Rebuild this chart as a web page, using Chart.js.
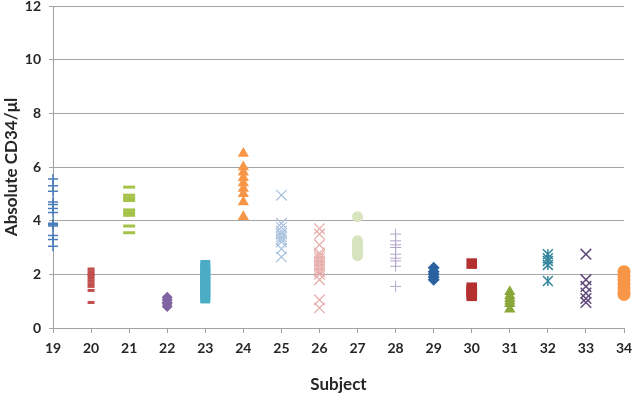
<!DOCTYPE html>
<html lang="en">
<head>
    <script src="https://cdn.jsdelivr.net/npm/chart.js@4/dist/chart.umd.min.js"></script>
    <style>
        html, body { margin: 0; padding: 0; background: #fff; }
        #canvas-container { position: relative; width: 633px; height: 395px; }
    </style>
</head>
<body>

<div id="canvas-container">
    <canvas id="dot-chart"></canvas>
</div>

<script>
    // subjects on the x axis
    const subjects = [19, 20, 21, 22, 23, 24, 25, 26, 27, 28, 29, 30, 31, 32, 33, 34];
    const yTicks = [0, 2, 4, 6, 8, 10, 12];

    // absolute CD34 counts per subject
    const s19 = [5.55, 5.3, 5.1, 4.7, 4.6, 4.45, 4.3, 3.9, 3.85, 3.8, 3.45, 3.3, 3.05];
    const s20 = [2.2, 2.1, 2.0, 1.95, 1.85, 1.75, 1.65, 1.55, 1.4, 0.95];
    const s21 = [5.25, 4.95, 4.85, 4.75, 4.4, 4.3, 4.2, 3.8, 3.55];
    const s22 = [1.15, 1.05, 0.95, 0.9, 0.8];
    const s23 = [2.35, 2.25, 2.15, 2.05, 1.95, 1.85, 1.75, 1.65, 1.55, 1.45, 1.35, 1.25, 1.15, 1.1];
    const s24 = [6.5, 6.0, 5.8, 5.6, 5.4, 5.2, 5.0, 4.7, 4.15];
    const s25 = [4.95, 3.9, 3.75, 3.6, 3.5, 3.4, 3.3, 3.2, 2.95, 2.65];
    const s26 = [3.7, 3.5, 3.1, 2.8, 2.7, 2.6, 2.5, 2.4, 2.3, 2.2, 2.1, 2.0, 1.8, 1.05, 0.75];
    const s27 = [4.15, 3.25, 3.15, 3.05, 2.95, 2.85, 2.75, 2.7];
    const s28 = [3.5, 3.25, 3.1, 3.0, 2.75, 2.6, 2.5, 2.3, 1.55];
    const s29 = [2.25, 2.1, 2.0, 1.9, 1.8];
    const s30 = [2.4, 1.5, 1.4, 1.3, 1.2];
    const s31 = [1.35, 1.2, 1.1, 1.0, 0.9, 0.7];
    const s32 = [2.75, 2.6, 2.5, 2.35, 1.75];
    const s33 = [2.75, 1.8, 1.55, 1.3, 1.1, 0.95];
    const s34 = [2.1, 1.95, 1.8, 1.65, 1.5, 1.35, 1.25];

    const series = [s19, s20, s21, s22, s23, s24, s25, s26, s27, s28, s29, s30, s31, s32, s33, s34];

    // marker look for each subject
    const markers = [
        { style: 'cross',    r: 5,   color: '#4a7ebb', bw: 1.5 },
        { style: 'line',     r: 3.5, color: '#c0504d', bw: 3 },
        { style: 'line',     r: 6,   color: '#a5c249', bw: 3 },
        { style: 'rectRot',  r: 5.5, color: '#8064a2', fill: true },
        { style: 'rect',     r: 7,   color: '#4bacc6', fill: true },
        { style: 'triangle', r: 6.5, color: '#f79646', fill: true },
        { style: 'crossRot', r: 7.5, color: '#a7c0de', bw: 1.2 },
        { style: 'crossRot', r: 7.5, color: '#e6aaa8', bw: 1.2 },
        { style: 'circle',   r: 5.5, color: '#d7e4bd', fill: true },
        { style: 'cross',    r: 5.5, color: '#b3a8cc', bw: 1 },
        { style: 'rectRot',  r: 6,   color: '#2a62a0', fill: true },
        { style: 'rect',     r: 7.5, color: '#b3302f', fill: true },
        { style: 'triangle', r: 6.5, color: '#8aa83a', fill: true },
        { style: 'crossRot', r: 7,   color: '#31859c', bw: 1.5, vbar: true },
        { style: 'crossRot', r: 7.5, color: '#5f497a', bw: 1.5 },
        { style: 'circle',   r: 6.5, color: '#f79646', fill: true }
    ];

    const datasets = [];
    series.forEach((vals, i) => {
        const m = markers[i];
        const pts = vals.map(v => ({ x: subjects[i], y: v }));
        datasets.push({
            label: String(subjects[i]),
            data: pts,
            pointStyle: m.style,
            pointRadius: m.r,
            pointHoverRadius: m.r,
            pointBorderWidth: m.fill ? 0 : m.bw,
            borderColor: m.color,
            backgroundColor: m.fill ? m.color : 'transparent',
            showLine: false,
            clip: false
        });
        if (m.vbar) { // asterisk: add the vertical stroke
            datasets.push({
                label: String(subjects[i]) + 'v',
                data: pts,
                pointStyle: 'line',
                rotation: 90,
                pointRadius: m.r * 0.72,
                pointBorderWidth: m.bw,
                borderColor: m.color,
                backgroundColor: 'transparent',
                showLine: false,
                clip: false
            });
        }
    });

    const tickFont = { family: 'Lato', weight: 'bold', size: 14, lineHeight: 0.8 };

    new Chart(document.getElementById('dot-chart'), {
        type: 'scatter',
        data: { datasets: datasets },
        options: {
            responsive: true,
            maintainAspectRatio: false,
            animation: false,
            layout: { autoPadding: false, padding: { top: 6, right: 9, left: 0, bottom: 0 } },
            plugins: { legend: { display: false }, tooltip: { enabled: false } },
            scales: {
                x: {
                    type: 'linear',
                    min: 19,
                    max: 34,
                    afterFit: s => { s.height = 67; s.paddingLeft = 0; s.paddingRight = 0; },
                    afterBuildTicks: s => { s.ticks = subjects.map(v => ({ value: v })); },
                    ticks: { stepSize: 1, color: '#262626', font: tickFont, padding: 10, maxRotation: 0 },
                    grid: { drawOnChartArea: false, drawTicks: true, tickLength: 5, color: '#a0a0a0' },
                    border: { color: '#a0a0a0' },
                    title: {
                        display: true, text: 'Subject', color: '#262626',
                        font: { family: 'Lato', weight: 'bold', size: 17 }, padding: { top: 0, bottom: 0 }
                    }
                },
                y: {
                    min: 0,
                    max: 12,
                    afterFit: s => { s.width = 53; s.paddingTop = 0; s.paddingBottom = 0; },
                    afterBuildTicks: s => { s.ticks = yTicks.map(v => ({ value: v })); },
                    ticks: { color: '#262626', font: tickFont, padding: 8 },
                    grid: { color: '#a6a6a6', tickLength: 4 },
                    border: { color: '#a0a0a0' },
                    title: {
                        display: true, text: 'Absolute CD34/μl', color: '#262626',
                        font: { family: 'Lato', weight: 'bold', size: 17 }, padding: { top: 1, bottom: 0 }
                    }
                }
            }
        }
    });
</script>

</body>
</html>
